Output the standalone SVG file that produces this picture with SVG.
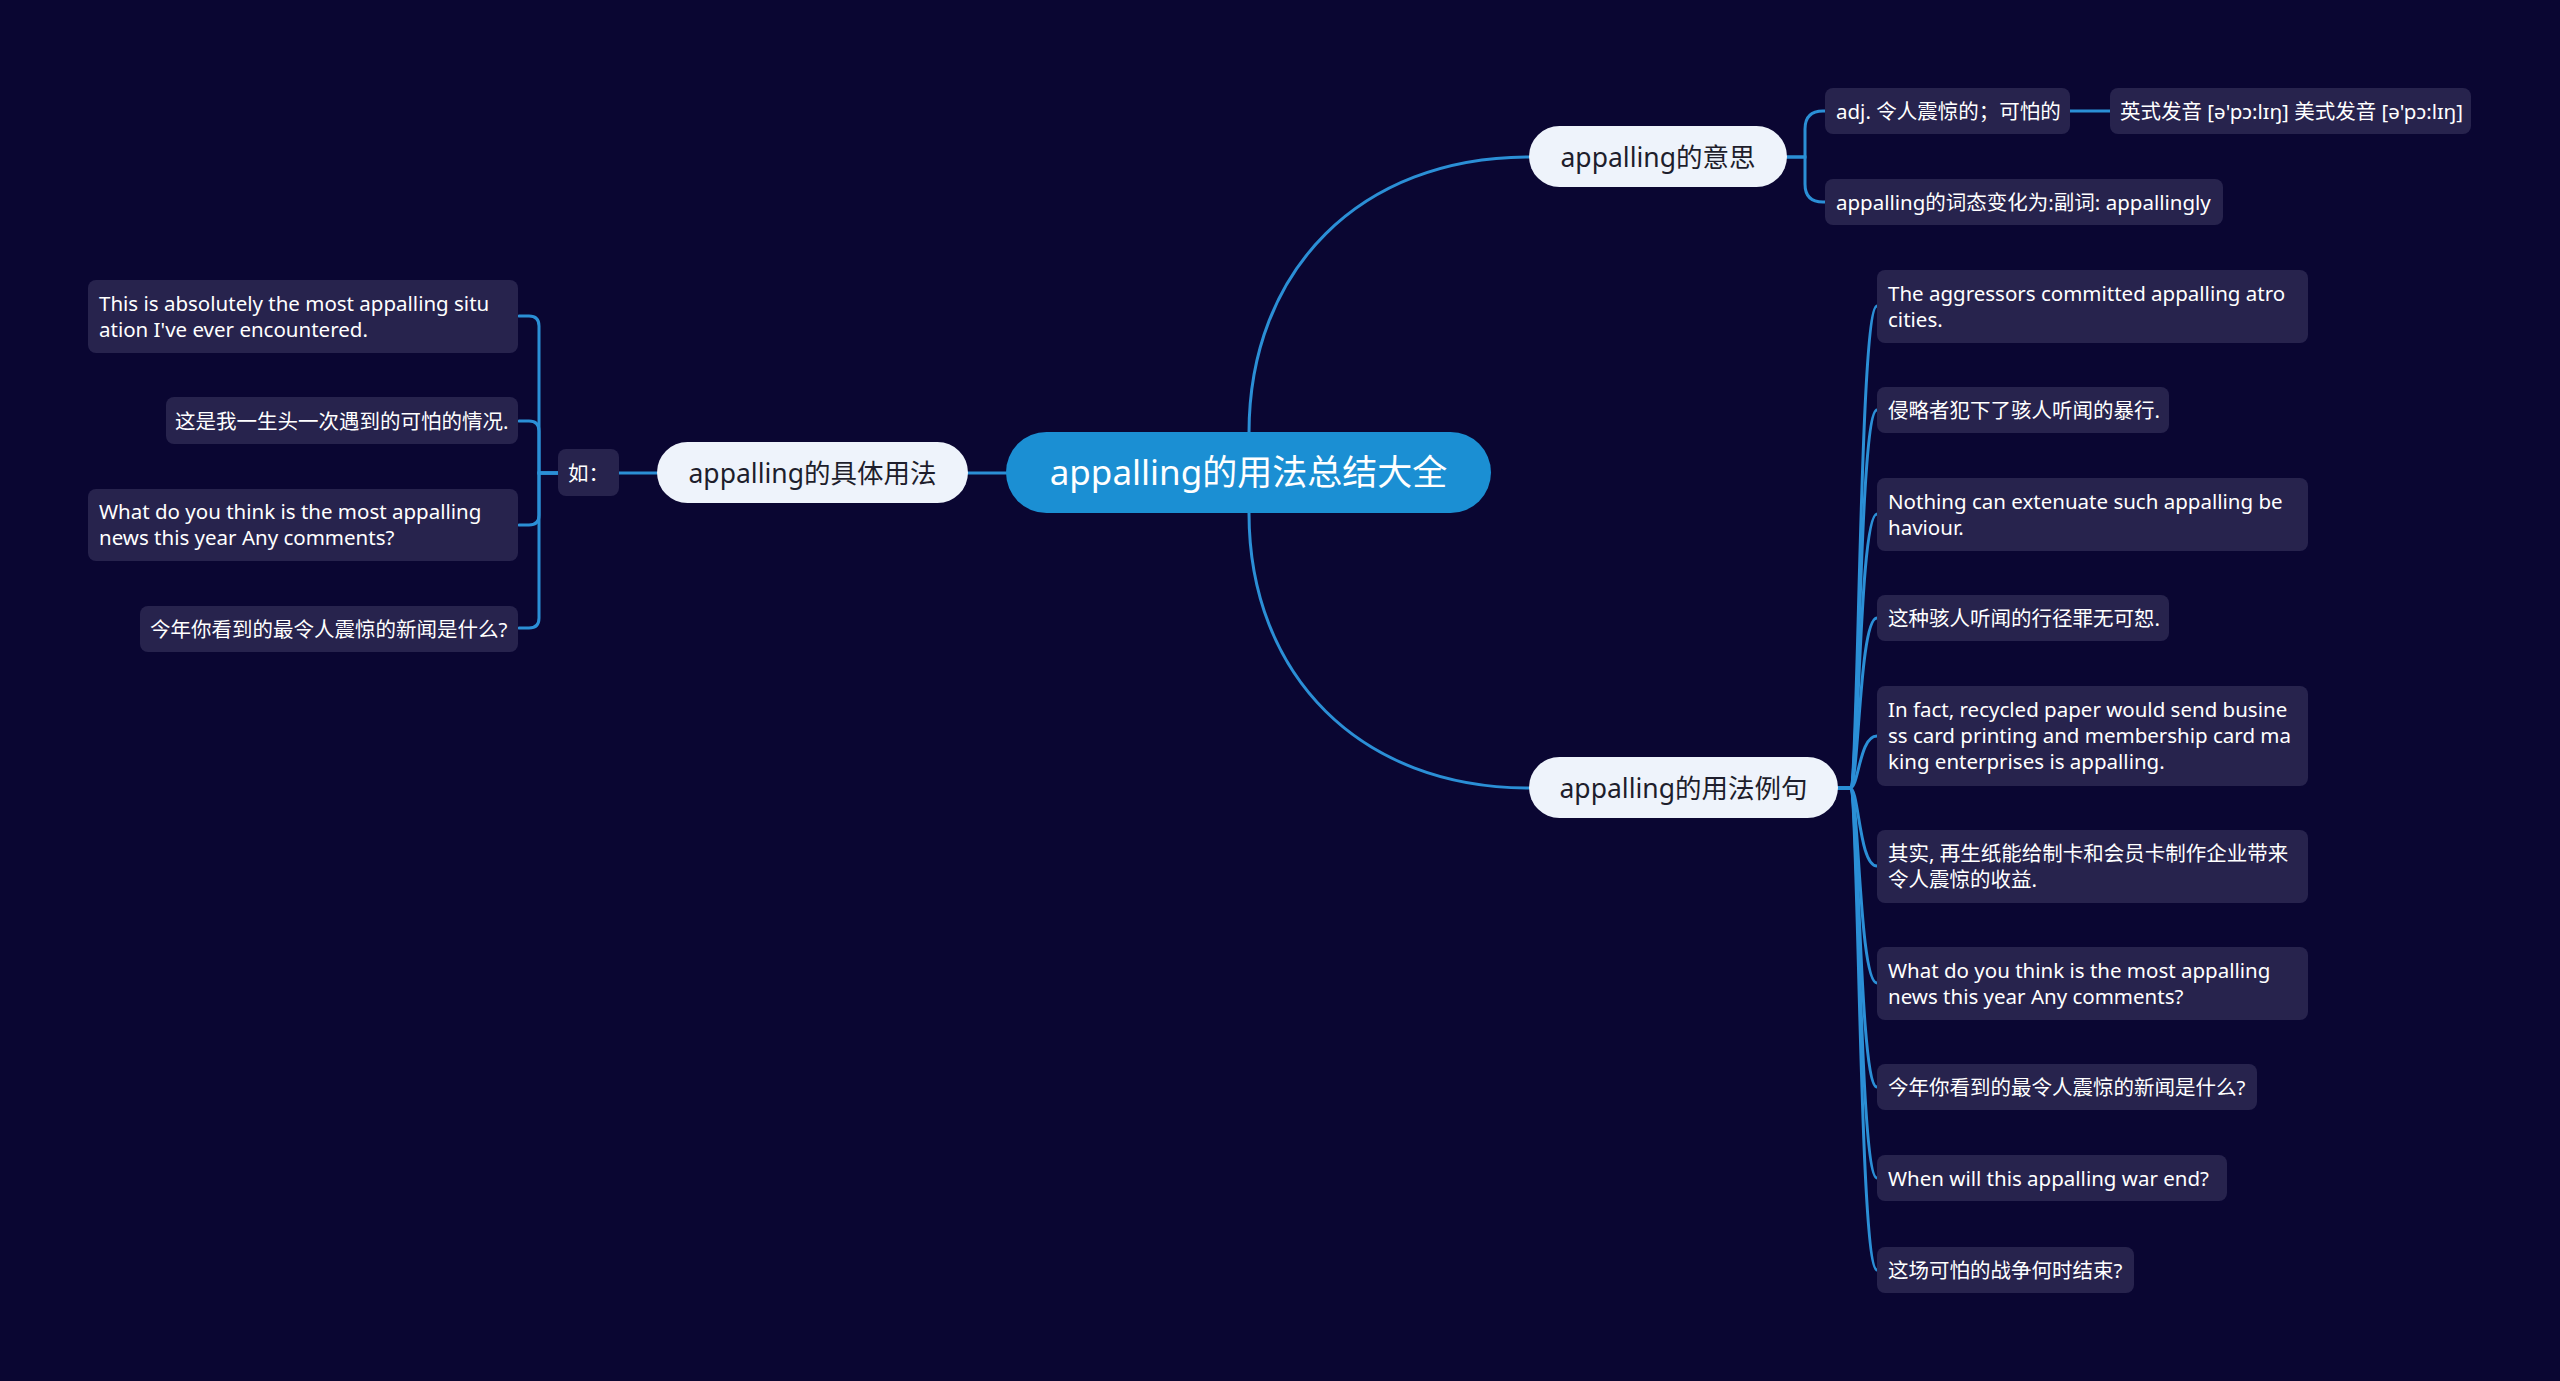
<svg xmlns="http://www.w3.org/2000/svg" width="2560" height="1381" viewBox="0 0 2560 1381">
<style>
.bg{fill:#0a0632}
.conn path{fill:none;stroke:#2b8fd6;stroke-width:3;stroke-linecap:round}
.leaf rect{fill:#27234d}
.leaf text{font-family:"Noto Sans","Noto Sans CJK SC",sans-serif;font-size:20.5px;fill:#ffffff}
.branch rect{fill:#eef3fb}
.branch text{font-family:"Noto Sans","Noto Sans CJK SC",sans-serif;font-size:26.5px;fill:#1e1e2c;text-anchor:middle}
.root rect{fill:#1b8fd3}
.root text{font-family:"Noto Sans","Noto Sans CJK SC",sans-serif;font-size:35px;fill:#ffffff;text-anchor:middle}
</style>
<rect class="bg" x="0" y="0" width="2560" height="1381"/>
<g class="conn" id="connectors">
<path d="M1249 433 C1249 270 1360 157 1529 157"/>
<path d="M1249 513 C1249 675 1360 788 1529 788"/>
<path d="M1006 473 H968"/>
<path d="M657 473 H619"/>
<path d="M558 473 H539 V326 Q539 316 529 316 H519"/>
<path d="M558 473 H539 V431 Q539 421 529 421 H519"/>
<path d="M558 473 H539 V515 Q539 525 529 525 H519"/>
<path d="M558 473 H539 V618 Q539 628 529 628 H519"/>
<path d="M1787 157 H1805 V129 Q1805 111 1823 111 H1825"/>
<path d="M1787 157 H1805 V184 Q1805 202 1823 202 H1825"/>
<path d="M2070 111 H2110"/>
<path d="M1838 788 H1850 C1859 788 1859 306 1877 306"/>
<path d="M1838 788 H1850 C1859 788 1859 410 1877 410"/>
<path d="M1838 788 H1850 C1859 788 1859 514 1877 514"/>
<path d="M1838 788 H1850 C1859 788 1859 618 1877 618"/>
<path d="M1838 788 H1850 C1859 788 1859 736 1877 736"/>
<path d="M1838 788 H1850 C1859 788 1859 866 1877 866"/>
<path d="M1838 788 H1850 C1859 788 1859 983 1877 983"/>
<path d="M1838 788 H1850 C1859 788 1859 1087 1877 1087"/>
<path d="M1838 788 H1850 C1859 788 1859 1178 1877 1178"/>
<path d="M1838 788 H1850 C1859 788 1859 1270 1877 1270"/>
</g>
<g id="root" class="root"><rect x="1006" y="432" width="485" height="81" rx="40.5"/><text x="1248.5" y="485">appalling的用法总结大全</text></g>
<g id="b-meaning" class="branch"><rect x="1529" y="126" width="258" height="61" rx="30.5"/><text x="1658" y="167">appalling的意思</text></g>
<g id="b-usage" class="branch"><rect x="657" y="442" width="311" height="61" rx="30.5"/><text x="812.5" y="483">appalling的具体用法</text></g>
<g id="b-examples" class="branch"><rect x="1529" y="757" width="309" height="61" rx="30.5"/><text x="1683.5" y="798">appalling的用法例句</text></g>
<g id="m1" class="leaf"><rect x="1825" y="88" width="245" height="46" rx="8"/><text x="1836" y="119">adj. 令人震惊的；可怕的</text></g>
<g id="m1a" class="leaf"><rect x="2110" y="88" width="361" height="46" rx="8"/><text x="2120" y="119">英式发音 [ə'pɔ:lɪŋ] 美式发音 [ə'pɔ:lɪŋ]</text></g>
<g id="m2" class="leaf"><rect x="1825" y="179" width="398" height="46" rx="8"/><text x="1836" y="210">appalling的词态变化为:副词: appallingly</text></g>
<g id="ru" class="leaf"><rect x="558" y="449" width="61" height="47" rx="8"/><text x="568" y="481">如：</text></g>
<g id="l1" class="leaf"><rect x="88" y="280" width="430" height="73" rx="8"/><text x="99" y="311">This is absolutely the most appalling situ</text><text x="99" y="337">ation I've ever encountered.</text></g>
<g id="l2" class="leaf"><rect x="166" y="397" width="352" height="47" rx="8"/><text x="175" y="429">这是我一生头一次遇到的可怕的情况.</text></g>
<g id="l3" class="leaf"><rect x="88" y="489" width="430" height="72" rx="8"/><text x="99" y="519">What do you think is the most appalling</text><text x="99" y="545">news this year Any comments?</text></g>
<g id="l4" class="leaf"><rect x="140" y="606" width="378" height="46" rx="8"/><text x="150" y="637">今年你看到的最令人震惊的新闻是什么?</text></g>
<g id="e1" class="leaf"><rect x="1877" y="270" width="431" height="73" rx="8"/><text x="1888" y="301">The aggressors committed appalling atro</text><text x="1888" y="327">cities.</text></g>
<g id="e2" class="leaf"><rect x="1877" y="387" width="292" height="46" rx="8"/><text x="1888" y="418">侵略者犯下了骇人听闻的暴行.</text></g>
<g id="e3" class="leaf"><rect x="1877" y="478" width="431" height="73" rx="8"/><text x="1888" y="509">Nothing can extenuate such appalling be</text><text x="1888" y="535">haviour.</text></g>
<g id="e4" class="leaf"><rect x="1877" y="595" width="292" height="46" rx="8"/><text x="1888" y="626">这种骇人听闻的行径罪无可恕.</text></g>
<g id="e5" class="leaf"><rect x="1877" y="686" width="431" height="100" rx="8"/><text x="1888" y="717">In fact, recycled paper would send busine</text><text x="1888" y="743">ss card printing and membership card ma</text><text x="1888" y="769">king enterprises is appalling.</text></g>
<g id="e6" class="leaf"><rect x="1877" y="830" width="431" height="73" rx="8"/><text x="1888" y="861">其实, 再生纸能给制卡和会员卡制作企业带来</text><text x="1888" y="887">令人震惊的收益.</text></g>
<g id="e7" class="leaf"><rect x="1877" y="947" width="431" height="73" rx="8"/><text x="1888" y="978">What do you think is the most appalling</text><text x="1888" y="1004">news this year Any comments?</text></g>
<g id="e8" class="leaf"><rect x="1877" y="1064" width="380" height="46" rx="8"/><text x="1888" y="1095">今年你看到的最令人震惊的新闻是什么?</text></g>
<g id="e9" class="leaf"><rect x="1877" y="1155" width="350" height="46" rx="8"/><text x="1888" y="1186">When will this appalling war end?</text></g>
<g id="e10" class="leaf"><rect x="1877" y="1247" width="257" height="46" rx="8"/><text x="1888" y="1278">这场可怕的战争何时结束?</text></g>
</svg>
